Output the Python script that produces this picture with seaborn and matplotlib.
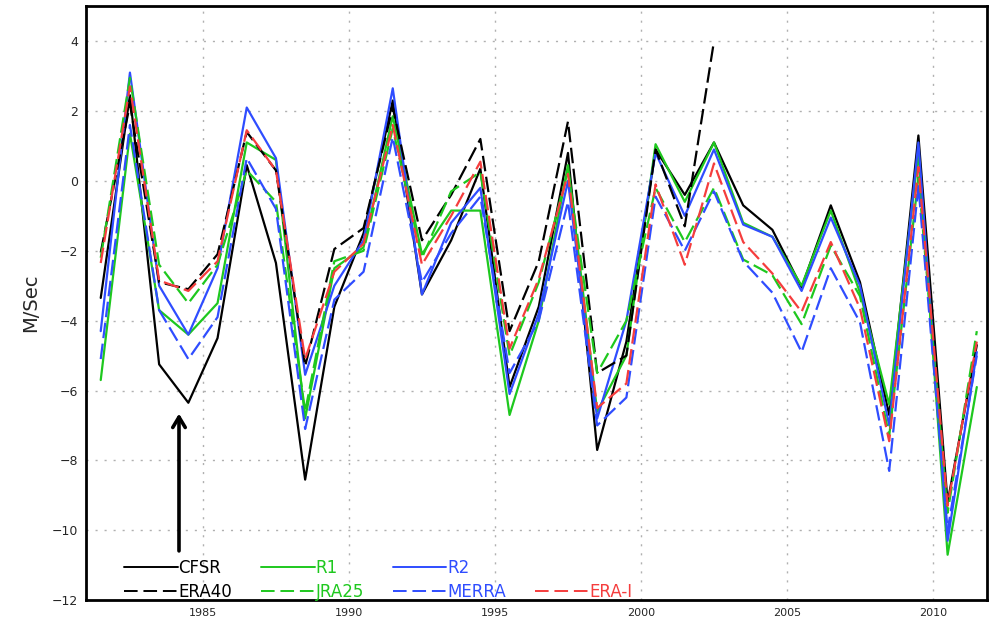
import numpy as np
import pandas as pd
import matplotlib
matplotlib.use("Agg")
import matplotlib.pyplot as plt
from matplotlib.lines import Line2D
import seaborn as sns

# Annual-mean wind anomaly (M/Sec) from several reanalyses, plotted at mid-year
years = np.arange(1981, 2012) + 0.5

cfsr = [-3.35, 2.45, -5.25, -6.35, -4.5, 0.45, -2.35, -8.55, -3.6, -1.5,
        2.3, -3.25, -1.7, 0.35, -5.9, -3.6, 0.8, -7.7, -4.6, 0.9,
        -0.4, 1.1, -0.7, -1.4, -3.05, -0.7, -2.9, -6.7, 1.3, -9.2, -4.7]
r1 = [-5.7, 1.35, -3.7, -4.4, -3.5, 1.1, 0.6, -6.8, -2.5, -1.9,
      1.85, -2.1, -0.85, -0.85, -6.7, -4.0, 0.45, -6.6, -5.0, 1.05,
      -0.6, 1.1, -1.2, -1.6, -3.0, -0.85, -3.2, -6.4, 0.8, -10.7, -5.9]
r2 = [-4.3, 3.1, -3.0, -4.4, -2.5, 2.1, 0.65, -5.55, -3.0, -1.7,
      2.65, -3.25, -1.2, -0.2, -6.1, -3.8, 0.0, -6.8, -4.0, 0.8,
      -1.0, 0.9, -1.25, -1.6, -3.15, -1.05, -3.0, -7.0, 1.1, -10.3, -4.9]
era40 = [-2.05, 2.2, -2.9, -3.1, -2.1, 1.4, 0.3, -5.3, -1.95, -1.35,
         2.1, -1.7, -0.4, 1.2, -4.3, -2.3, 1.7, -5.5, -5.0, 0.9,
         -1.3, 4.0] + [np.nan] * 9
jra25 = [-2.2, 2.95, -2.4, -3.5, -2.4, 0.3, -0.6, -6.6, -2.3, -2.0,
         1.5, -2.2, -0.3, 0.25, -5.0, -2.9, 0.3, -5.5, -4.0, -0.2,
         -1.75, -0.2, -2.25, -2.7, -4.1, -1.85, -3.3, -7.3, 0.1, -9.5, -4.3]
merra = [-5.1, 1.6, -3.7, -5.1, -3.9, 0.65, -0.8, -7.1, -3.4, -2.6,
         1.25, -2.9, -1.5, -0.45, -5.5, -4.0, -0.6, -7.0, -6.2, -0.45,
         -2.0, -0.3, -2.3, -3.2, -4.9, -2.5, -4.05, -8.3, -0.15, -10.0, -5.0]
era_i = [-2.35, 2.7, -2.85, -3.15, -2.3, 1.45, 0.3, -5.1, -2.6, -1.8,
         1.6, -2.4, -1.0, 0.55, -4.8, -2.8, 0.2, -6.5, -5.8, -0.1,
         -2.4, 0.5, -1.75, -2.65, -3.75, -1.75, -3.65, -7.45, 0.4, -9.3, -4.6]

names = ["CFSR", "R1", "R2", "ERA40", "JRA25", "MERRA", "ERA-I"]
series = [cfsr, r1, r2, era40, jra25, merra, era_i]

y_ticks = [-12, -10, -8, -6, -4, -2, 0, 2, 4]
x_ticks = [1985, 1990, 1995, 2000, 2005, 2010]

BLACK, GREEN, BLUE, RED = "#000000", "#1ec81e", "#2f4dff", "#f53d3d"
colors = {"CFSR": BLACK, "R1": GREEN, "R2": BLUE,
          "ERA40": BLACK, "JRA25": GREEN, "MERRA": BLUE, "ERA-I": RED}
dash = (7, 2.5)
dashes = {"CFSR": "", "R1": "", "R2": "",
          "ERA40": dash, "JRA25": dash, "MERRA": dash, "ERA-I": dash}

df = pd.concat(
    [pd.DataFrame({"year": years, "value": v, "dataset": n})
     for n, v in zip(names, series)],
    ignore_index=True,
)

sns.set_style("white")
plt.rcParams["font.family"] = ["DejaVu Sans"]

fig = plt.figure(figsize=(9.9, 6.2), dpi=100)
ax = fig.add_axes([0.087, 0.032, 0.910, 0.958])

sns.lineplot(data=df, x="year", y="value", hue="dataset", style="dataset",
             hue_order=names, style_order=names, palette=colors,
             dashes=dashes, linewidth=1.6, legend=False, ax=ax,
             estimator=None, sort=False)

ax.set_xlim(1981.0, 2011.85)
ax.set_ylim(-12, 5)
ax.set_xticks(x_ticks)
ax.set_yticks(y_ticks)
ax.set_xticklabels([str(t) for t in x_ticks], fontsize=8)
ax.set_yticklabels([str(t).replace("-", "\u2212") for t in y_ticks], fontsize=9)
ax.tick_params(axis="both", direction="out", length=4, width=1, pad=2)
ax.set_xlabel("")
ax.set_ylabel("M/Sec", fontsize=14, labelpad=8)

ax.grid(True, color="#b0b0b0", linestyle=(0, (1.5, 5)), linewidth=1.0)
for s in ax.spines.values():
    s.set_linewidth(2)
    s.set_color("black")

# arrow pointing at the 1984 CFSR minimum
ax.annotate("", xy=(1984.18, -6.58), xytext=(1984.18, -10.67),
            arrowprops=dict(arrowstyle="->, head_length=0.75, head_width=0.45",
                            color="black", lw=2.6))

# two-row legend: solid products on top, dashed products below
blank = Line2D([], [], color="none")
order = ["CFSR", "ERA40", "R1", "JRA25", "R2", "MERRA", None, "ERA-I"]
handles, labels = [], []
for n in order:
    if n is None:
        handles.append(blank)
        labels.append("")
    else:
        handles.append(Line2D([], [], color=colors[n], lw=1.4,
                              dashes=(7, 3) if dashes[n] else (None, None)))
        labels.append(n)
leg = ax.legend(handles, labels, ncol=4, frameon=False, fontsize=12,
                loc="lower left", bbox_to_anchor=(0.035, -0.012),
                handlelength=3.2, handletextpad=0.05, columnspacing=1.75,
                labelspacing=0.35, borderaxespad=0.0)
for txt, n in zip(leg.get_texts(), order):
    if n is not None:
        txt.set_color(colors[n])

fig.savefig("out.png", dpi=100, facecolor="white")
